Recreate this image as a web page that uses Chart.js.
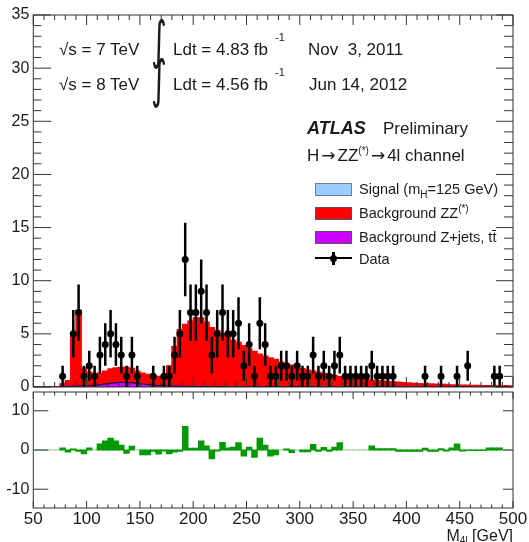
<!DOCTYPE html>
<html><head><meta charset="utf-8">
<script src="https://cdn.jsdelivr.net/npm/chart.js@4.4.0/dist/chart.umd.min.js"></script>
<style>
html,body{margin:0;padding:0;background:#fff;}
#wrap{position:relative;width:529px;height:542px;overflow:hidden;font-family:"Liberation Sans",Arial,Helvetica,sans-serif;color:#1a1a1a;}
canvas{position:absolute;left:0;}
#top{top:0;}
#bot{top:391px;}
.t{position:absolute;white-space:pre;font-size:17px;line-height:17px;}
.sup{position:absolute;white-space:pre;font-size:11px;line-height:11px;}
.int{position:absolute;font-family:"DejaVu Sans",sans-serif;font-size:40px;line-height:40px;transform:scale(0.75,1.3);transform-origin:0 0;}
.lg{position:absolute;white-space:pre;font-size:14.5px;line-height:15px;left:359px;}
.sw{position:absolute;left:315px;width:35px;height:11px;border:1px solid #555;}
.sm{font-size:10px;line-height:0;position:relative;}
.ar{font-family:"DejaVu Sans",sans-serif;font-size:17px;margin:0 2px;}
</style></head>
<body><div id="wrap">
<canvas id="top" width="529" height="391"></canvas>
<canvas id="bot" width="529" height="151"></canvas>

<div class="t" style="left:59px;top:41px">√s = 7 TeV</div>
<div class="int" style="left:151px;top:14px">∫</div>
<div class="t" style="left:173px;top:41px">Ldt = 4.83 fb</div>
<div class="sup" style="left:275px;top:32px">-1</div>
<div class="t" style="left:308px;top:41px">Nov  3, 2011</div>

<div class="t" style="left:59px;top:76px">√s = 8 TeV</div>
<div class="int" style="left:151px;top:53px">∫</div>
<div class="t" style="left:173px;top:76px">Ldt = 4.56 fb</div>
<div class="sup" style="left:275px;top:67px">-1</div>
<div class="t" style="left:309px;top:76px">Jun 14, 2012</div>

<div class="t" style="left:307px;top:120px"><b><i style="font-size:18px">ATLAS</i></b></div>
<div class="t" style="left:383px;top:120px">Preliminary</div>
<div class="t" style="left:307px;top:147px">H<span class="ar">→</span>ZZ<span class="sm" style="top:-7px">(*)</span><span class="ar">→</span>4l channel</div>

<div class="sw" style="top:183px;background:#99ccff;border-color:#6a7f99"></div>
<div class="lg" style="top:182px">Signal (m<span class="sm" style="top:4px">H</span>=125 GeV)</div>
<div class="sw" style="top:206.5px;background:#ff0000"></div>
<div class="lg" style="top:205.5px">Background ZZ<span class="sm" style="top:-6px">(*)</span></div>
<div class="sw" style="top:230.5px;background:#cc00ff"></div>
<div class="lg" style="top:229.5px">Background Z+jets, t<span style="display:inline-block;border-top:1px solid #1a1a1a;line-height:12px">t</span></div>
<div style="position:absolute;left:315px;top:257px;width:37px;height:2px;background:#000"></div>
<div style="position:absolute;left:332px;top:252px;width:2.5px;height:13px;background:#000"></div>
<div style="position:absolute;left:329.5px;top:254.5px;width:7px;height:7px;border-radius:50%;background:#000"></div>
<div class="lg" style="top:251.5px">Data</div>

<div class="t" style="right:16px;top:527px;font-size:16px">M<span style="font-size:10px;position:relative;top:3px">4l</span> [GeV]</div>
</div>
<script>
// ---- bins (lower edges, GeV) ----
const binLowEdges = [50,55,60,65,70,75,80,85,90,95,100,105,110,115,120,125,130,135,140,145,
 150,155,160,165,170,175,180,185,190,195,200,205,210,215,220,225,230,235,240,245,
 250,255,260,265,270,275,280,285,290,295,300,305,310,315,320,325,330,335,340,345,
 350,355,360,365,370,375,380,385,390,395,400,405,410,415,420,425,430,435,440,445,
 450,455,460,465,470,475,480,485,490,495];
const histUpperEdge = 500;

// ---- observed events per bin ----
const dataCounts = [0,0,0,0,0, 1,0,5,7,1, 2,1,3,4,5, 4,3,1,3,1, 0,0,1,0,1, 1,3,5,12,7,
 7,9,7,3,5, 7,5,5,6,2, 4,1,6,4,1, 1,2,2,1,2, 1,1,3,1,2, 1,2,3,1,1,
 1,1,1,2,1, 1,1,1,0,0, 0,0,0,1,0, 0,1,0,0,1, 0,2,0,0,0, 0,1,1,0,0];

// ---- background ZZ(*) ----
const bkgZZ = [0,0,0,0,0, 0.27,0.55,4.72,7.1,1.7, 1.28,0.95,1.1,1.22,1.35, 1.4,1.4,1.4,1.35,1.15,
 1.02,0.98,0.92,0.86,0.93, 1.9,3.71,5.32,5.83,6.14, 6.45,6.45,6.06,5.56,5.27, 4.97,4.67,4.37,4.17,3.87,
 3.57,3.33,3.08,2.88,2.73, 2.58,2.33,2.18,2.03,1.88, 1.73,1.58,1.48,1.38,1.28, 1.18,1.08,0.98,0.93,0.86,
 0.8,0.74,0.68,0.64,0.6, 0.56,0.53,0.48,0.44,0.41, 0.39,0.35,0.32,0.29,0.29, 0.27,0.25,0.24,0.21,0.19,
 0.19,0.17,0.16,0.15,0.14, 0.14,0.13,0.12,0.12,0.11];

// ---- background Z+jets, ttbar ----
const bkgZjets = [0,0,0,0,0, 0.03,0.05,0.08,0.1,0.1, 0.12,0.15,0.2,0.28,0.35, 0.4,0.45,0.45,0.4,0.35,
 0.28,0.22,0.18,0.14,0.12, 0.1,0.09,0.08,0.07,0.06, 0.05,0.05,0.04,0.04,0.03, 0.03,0.03,0.03,0.03,0.03,
 0.02,0.02,0.02,0.02,0.02, 0.02,0.02,0.02,0.02,0.02, 0.01,0.01,0.01,0.01,0.01, 0.01,0.01,0.01,0.01,0.01,
 0.01,0.01,0.01,0.01,0.01, 0.01,0.01,0.01,0.01,0.01, 0,0,0,0,0, 0,0,0,0,0, 0,0,0,0,0, 0,0,0,0,0];

// ---- signal mH = 125 GeV (not visible at this scale) ----
const signalH125 = [0,0,0,0,0, 0,0,0,0,0, 0,0,0,0,0, 0,0,0,0,0, 0,0,0,0,0, 0,0,0,0,0,
 0,0,0,0,0, 0,0,0,0,0, 0,0,0,0,0, 0,0,0,0,0, 0,0,0,0,0, 0,0,0,0,0,
 0,0,0,0,0, 0,0,0,0,0, 0,0,0,0,0, 0,0,0,0,0, 0,0,0,0,0, 0,0,0,0,0];

// ---- lower pad: data - background ----
const dataMinusBkg = [0,0,0,0,0, 0.5,-0.5,0.2,-0.3,-0.9, 0.5,0,1.5,2.3,3.0, 2.3,1.2,-0.8,0.9,0,
 -1.2,-1.2,-0.3,-1.0,-0.2, -0.9,-0.5,-0.3,6.0,0.4, 0.4,2.3,1.0,-2.2,-0.2, 1.9,0.5,0.7,1.8,-1.5,
 0.7,-1.8,3.0,1.2,-1.5, -1.2,0,0.2,-0.6,0, -0.4,-0.4,1.4,-0.3,0.6, -0.3,0.7,1.8,0,0,
 0,0,0,1.0,0.3, 0.3,0.3,0.3,-0.3,-0.3, -0.3,-0.3,-0.3,0.4,-0.3, -0.3,0.3,-0.2,0.5,1.5,
 -0.2,-0.1,-0.1,-0.1,-0.1, 0.5,0.5,0.5,0,0];

const xRange = [50, 500];
const topYRange = [0, 35];
const botYRange = [-14.8, 14.8];
const botYTicks = [-10, 0, 10];

const FONT = '"Liberation Sans", Arial, Helvetica, sans-serif';
Chart.defaults.font.family = FONT;
Chart.defaults.color = '#1a1a1a';

const binWidth = binLowEdges[1] - binLowEdges[0];
function barPoints(vals){ return binLowEdges.map((x,i)=>({x:x+binWidth/2, y:vals[i]})); }
function stepPoints(vals){
  const pts = binLowEdges.map((x,i)=>({x:x, y:vals[i]}));
  pts.push({x:histUpperEdge, y:vals[vals.length-1]});
  return pts;
}
const dataPoints = binLowEdges.map((x,i)=>({x:x+binWidth/2, y:dataCounts[i]>0?dataCounts[i]:null}));

function framePlugin(cfg){
  return {
    id:'frame',
    afterDraw(chart){
      const {ctx, chartArea:a, scales} = chart;
      const x = scales.x, y = scales.y;
      ctx.save();
      ctx.strokeStyle = '#333';
      ctx.lineWidth = 1;
      ctx.strokeRect(a.left, a.top, a.right-a.left, a.bottom-a.top);
      ctx.beginPath();
      for (let v = xRange[0]; v <= xRange[1]+1e-6; v += 10){
        const px = x.getPixelForValue(v);
        const L = (v % 50 === 0) ? cfg.xMajor : cfg.xMinor;
        ctx.moveTo(px, a.bottom); ctx.lineTo(px, a.bottom - L);
        ctx.moveTo(px, a.top); ctx.lineTo(px, a.top + L);
      }
      cfg.yTicks.forEach(t=>{
        const py = y.getPixelForValue(t.v);
        ctx.moveTo(a.left, py); ctx.lineTo(a.left + (t.major?cfg.yMajorL:cfg.yMinorL), py);
        ctx.moveTo(a.right, py); ctx.lineTo(a.right - (t.major?cfg.yMajorR:cfg.yMinorR), py);
      });
      ctx.stroke();
      ctx.restore();
    }
  };
}

const errorBars = {
  id:'errorBars',
  afterDatasetsDraw(chart){
    const {ctx, scales:{x,y}} = chart;
    ctx.save();
    ctx.strokeStyle = '#000';
    ctx.lineWidth = 2.5;
    ctx.beginPath();
    binLowEdges.forEach((lo,i)=>{
      const n = dataCounts[i];
      if (n <= 0) return;
      const e = Math.sqrt(n);
      const px = x.getPixelForValue(lo + binWidth/2);
      const py = y.getPixelForValue(n);
      ctx.moveTo(px, y.getPixelForValue(n+e)); ctx.lineTo(px, y.getPixelForValue(Math.max(n-e,0)));
      ctx.moveTo(x.getPixelForValue(lo), py); ctx.lineTo(x.getPixelForValue(lo+binWidth), py);
    });
    ctx.stroke();
    ctx.restore();
  }
};

const topYTickMarks = [];
for (let v = topYRange[0]; v <= topYRange[1]; v++) topYTickMarks.push({v:v, major: v%5===0});

const barCommon = {type:'bar', barPercentage:1, categoryPercentage:1, borderWidth:0, inflateAmount:0.6, stack:'bkg'};

new Chart(document.getElementById('top'), {
  data:{ datasets:[
    Object.assign({label:'Background Z+jets, tt', data:barPoints(bkgZjets), backgroundColor:'#cc00ff', order:2}, barCommon),
    Object.assign({label:'Background ZZ(*)', data:barPoints(bkgZZ), backgroundColor:'#ff0000', order:3}, barCommon),
    Object.assign({label:'Signal (mH=125 GeV)', data:barPoints(signalH125), backgroundColor:'rgba(153,204,255,0)', order:4}, barCommon),
    {type:'line', label:'Z+jets outline', data:stepPoints(bkgZjets), stepped:true, fill:false,
     borderColor:'#000', borderWidth:1, pointRadius:0, order:1, stack:'outline'},
    {type:'line', label:'Data', data:dataPoints, showLine:false, pointRadius:3.5, pointBackgroundColor:'#000',
     pointBorderWidth:0, borderColor:'#000', order:0, stack:'data'}
  ]},
  options:{
    responsive:false, animation:false, devicePixelRatio:1,
    layout:{padding:{top:15, right:16, bottom:0.5, left:0}},
    plugins:{legend:{display:false}, tooltip:{enabled:false}},
    scales:{
      x:{type:'linear', min:xRange[0], max:xRange[1], display:false, offset:false},
      y:{min:topYRange[0], max:topYRange[1], stacked:true,
         ticks:{stepSize:5, font:{size:16}, color:'#1a1a1a', padding:4},
         grid:{display:false, drawTicks:false}, border:{display:false},
         afterFit(s){ s.width = 33.3; s.paddingTop = 0; s.paddingBottom = 0; }}
    }
  },
  plugins:[errorBars, framePlugin({xMajor:10, xMinor:5, yMajorL:18, yMinorL:8, yMajorR:17, yMinorR:9, yTicks:topYTickMarks})]
});

new Chart(document.getElementById('bot'), {
  data:{ datasets:[
    {type:'bar', label:'Data - Background', data:barPoints(dataMinusBkg),
     backgroundColor:(c)=> (c.raw && c.raw.y === 0) ? '#8fd08f' : '#009900',
     barPercentage:1, categoryPercentage:1, borderWidth:0, inflateAmount:0.6}
  ]},
  options:{
    responsive:false, animation:false, devicePixelRatio:1,
    layout:{padding:{top:1, right:16, bottom:0, left:0}},
    plugins:{legend:{display:false}, tooltip:{enabled:false}},
    scales:{
      x:{type:'linear', min:xRange[0], max:xRange[1], offset:false,
         ticks:{stepSize:50, font:{size:17}, color:'#1a1a1a', padding:1, maxRotation:0, autoSkip:false},
         grid:{display:false, drawTicks:false}, border:{display:false},
         afterFit(s){ s.height = 34; s.paddingLeft = 0; s.paddingRight = 0; }},
      y:{min:botYRange[0], max:botYRange[1],
         ticks:{font:{size:16}, color:'#1a1a1a', padding:4},
         afterBuildTicks(s){ s.ticks = botYTicks.map(v=>({value:v})); },
         grid:{display:false, drawTicks:false}, border:{display:false},
         afterFit(s){ s.width = 33.3; s.paddingTop = 0; s.paddingBottom = 0; }}
    }
  },
  plugins:[framePlugin({xMajor:7, xMinor:3.5, yMajorL:15, yMinorL:15, yMajorR:10, yMinorR:10,
           yTicks:botYTicks.map(v=>({v:v, major:true}))})]
});
</script>
</body></html>
